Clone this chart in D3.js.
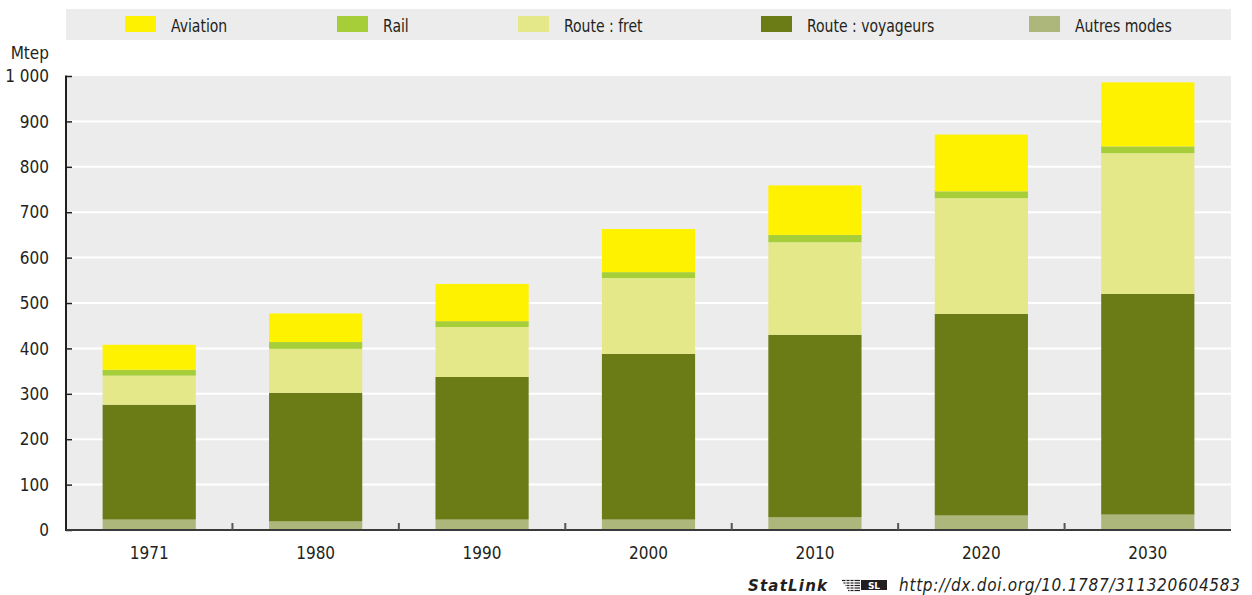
<!DOCTYPE html>
<html>
<head>
<meta charset="utf-8">
<script src="https://cdn.jsdelivr.net/npm/d3@7/dist/d3.min.js"></script>
<style>
  html, body { margin: 0; padding: 0; background: #ffffff; }
  svg { display: block; }
  .lbl { font-family: "Liberation Sans Narrow", "Arial Narrow", "DejaVu Sans Condensed", sans-serif; fill: #231f20; }
</style>
</head>
<body>
<svg id="chart" width="1252" height="595"></svg>
<script>
// Transport energy demand by mode, Mtep
const years = ["1971", "1980", "1990", "2000", "2010", "2020", "2030"];
const autresModes     = [23, 19, 23, 23, 28, 32, 34];
const routeVoyageurs  = [253, 283, 314, 365, 402, 444, 486];
const routeFret       = [64, 97, 110, 167, 204, 255, 310];
const rail            = [13, 15, 13, 13, 16, 15, 15];
const aviation        = [55, 63, 82, 95, 109, 125, 141];

const yTicks = [0, 100, 200, 300, 400, 500, 600, 700, 800, 900, 1000];
const yTickLabels = ["0", "100", "200", "300", "400", "500", "600", "700", "800", "900", "1 000"];

// Stack order, bottom to top
const seriesKeys = ["autres", "voyageurs", "fret", "rail", "aviation"];
const seriesNames = {
  aviation: "Aviation",
  rail: "Rail",
  fret: "Route : fret",
  voyageurs: "Route : voyageurs",
  autres: "Autres modes"
};
const colors = {
  aviation: "#fff200",
  rail: "#a6ce39",
  fret: "#e5e889",
  voyageurs: "#6b7b15",
  autres: "#adb77b"
};
const legendOrder = ["aviation", "rail", "fret", "voyageurs", "autres"];

const rows = years.map((yr, i) => ({
  year: yr,
  autres: autresModes[i],
  voyageurs: routeVoyageurs[i],
  fret: routeFret[i],
  rail: rail[i],
  aviation: aviation[i]
}));

const svg = d3.select("#chart");
const plotLeft = 66, plotRight = 1231, plotTop = 76, plotBottom = 530;

const x = d3.scaleBand().domain(years).range([plotLeft, plotRight]).paddingInner(0.44).paddingOuter(0.22);
const y = d3.scaleLinear().domain([0, 1000]).range([plotBottom, plotTop]);

// Legend band
svg.append("rect").attr("x", plotLeft).attr("y", 9).attr("width", plotRight - plotLeft).attr("height", 31).attr("fill", "#ececec");
const legendX = [125, 337, 518, 761, 1029];
legendOrder.forEach((k, i) => {
  const g = svg.append("g").attr("transform", `translate(${legendX[i]},0)`);
  g.append("rect").attr("x", 0).attr("y", 16).attr("width", 31).attr("height", 16).attr("fill", colors[k]);
  g.append("text").attr("class", "lbl").attr("transform", "translate(46,31.5) scale(0.89,1)")
    .style("font-size", "17.5px").text(seriesNames[k]);
});

// Plot background
svg.append("rect").attr("x", plotLeft).attr("y", y(1000)).attr("width", plotRight - plotLeft)
  .attr("height", y(0) - y(1000)).attr("fill", "#ececec");

// Gridlines
svg.append("g").selectAll("line").data(yTicks.filter(d => d > 0 && d < 1000)).join("line")
  .attr("x1", plotLeft).attr("x2", plotRight).attr("y1", d => y(d)).attr("y2", d => y(d))
  .attr("stroke", "#ffffff").attr("stroke-width", 2);

// Stacked bars
const stack = d3.stack().keys(seriesKeys);
const layers = stack(rows);
svg.append("g").selectAll("g").data(layers).join("g")
  .attr("fill", d => colors[d.key])
  .selectAll("rect").data(d => d).join("rect")
  .attr("x", d => x(d.data.year))
  .attr("width", x.bandwidth())
  .attr("y", d => y(d[1]))
  .attr("height", d => y(d[0]) - y(d[1]));

// Y axis
const yAxis = d3.axisRight(y).tickValues(yTicks).tickSize(6).tickFormat("");
const gy = svg.append("g").attr("transform", `translate(${plotLeft},0)`).call(yAxis);
gy.select(".domain").remove();
gy.selectAll(".tick line").attr("stroke", "#231f20").attr("stroke-width", 1.5);
svg.append("line").attr("x1", plotLeft).attr("x2", plotLeft).attr("y1", y(1000) - 0.5).attr("y2", y(0) + 1)
  .attr("stroke", "#231f20").attr("stroke-width", 2);

svg.append("g").selectAll("text").data(yTicks).join("text")
  .attr("class", "lbl").attr("x", 49).attr("y", d => y(d)).attr("dy", "0.36em")
  .attr("text-anchor", "end").style("font-size", "17px")
  .text((d, i) => yTickLabels[i]);

svg.append("text").attr("class", "lbl").attr("x", 49).attr("y", 58.5)
  .attr("text-anchor", "end").style("font-size", "17px").text("Mtep");

// X axis
svg.append("line").attr("x1", plotLeft).attr("x2", plotRight).attr("y1", y(0)).attr("y2", y(0))
  .attr("stroke", "#3a3a3a").attr("stroke-width", 2);
const step = x.step();
const sepTicks = years.slice(1).map(yr => x(yr) - x.paddingInner() * step / 2);
svg.append("g").selectAll("line").data(sepTicks).join("line")
  .attr("x1", d => d).attr("x2", d => d).attr("y1", y(0)).attr("y2", y(0) - 7)
  .attr("stroke", "#555").attr("stroke-width", 2);

svg.append("g").selectAll("text").data(years).join("text")
  .attr("class", "lbl").attr("x", d => x(d) + x.bandwidth() / 2).attr("y", 559)
  .attr("text-anchor", "middle").style("font-size", "17px").text(d => d);

// StatLink footer
svg.append("text").attr("x", 748).attr("y", 591)
  .style("font-family", "'DejaVu Sans', sans-serif").style("font-weight", "bold").style("font-style", "italic")
  .style("font-size", "15px").attr("textLength", 79).attr("fill", "#231f20").text("StatLink");
const icon = svg.append("g").attr("transform", "translate(840,580)");
[0, 2.5, 5, 7.5, 10].forEach((dy, i) => {
  icon.append("line").attr("x1", 2 + i * 1.5).attr("x2", 20).attr("y1", dy + 0.5).attr("y2", dy + 0.5)
    .attr("stroke", "#231f20").attr("stroke-width", 1.2);
});
[6, 10, 14].forEach(dx => {
  icon.append("line").attr("x1", dx).attr("x2", dx).attr("y1", 0).attr("y2", 11).attr("stroke", "#ffffff").attr("stroke-width", 1);
});
icon.append("rect").attr("x", 21).attr("y", 0).attr("width", 26).attr("height", 10).attr("fill", "#231f20");
icon.append("text").attr("x", 34).attr("y", 8.5).attr("text-anchor", "middle")
  .style("font-family", "'DejaVu Sans', sans-serif").style("font-weight", "bold").style("font-size", "9px")
  .attr("fill", "#ffffff").text("SL");
svg.append("text").attr("x", 899).attr("y", 591)
  .style("font-family", "'DejaVu Sans Condensed', 'DejaVu Sans', sans-serif").style("font-style", "italic")
  .style("font-size", "17px").attr("textLength", 341).attr("fill", "#231f20")
  .text("http://dx.doi.org/10.1787/311320604583");
</script>
</body>
</html>
